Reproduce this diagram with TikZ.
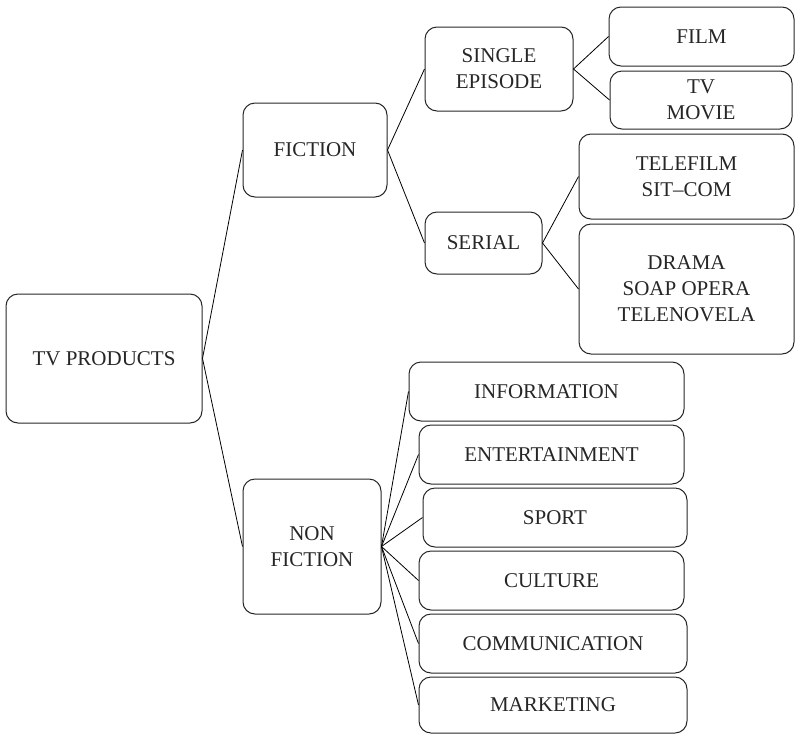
\documentclass[tikz,border=0pt]{standalone}
\usepackage{fontspec}
\setmainfont{Liberation Serif}
\begin{document}
\begin{tikzpicture}[x=1pt,y=-1pt,
  box/.style={draw=black!85, line width=1pt, rounded corners=12pt, align=center, inner sep=0pt,
    font=\fontsize{21}{26}\selectfont, text=black!85},
  link/.style={draw=black, line width=0.8pt}]
\useasboundingbox (0,0) rectangle (795,734);
\node[box, minimum width=196pt, minimum height=129pt] (tv) at (104,358.5) {TV PRODUCTS};
\node[box, minimum width=144pt, minimum height=94pt] (fiction) at (315,150) {FICTION};
\node[box, minimum width=148pt, minimum height=84pt] (single) at (499,69) {SINGLE\\EPISODE};
\node[box, minimum width=117pt, minimum height=62pt] (serial) at (483.5,243) {SERIAL};
\node[box, minimum width=185pt, minimum height=59pt] (film) at (701.5,36.5) {FILM};
\node[box, minimum width=182pt, minimum height=58pt] (tvmovie) at (701,100) {TV\\MOVIE};
\node[box, minimum width=215pt, minimum height=85pt] (telefilm) at (686.5,176.5) {TELEFILM\\SIT--COM};
\node[box, minimum width=215pt, minimum height=130pt] (drama) at (686.5,289) {DRAMA\\SOAP OPERA\\TELENOVELA};
\node[box, minimum width=138pt, minimum height=135pt] (nonfiction) at (312,546.5) {NON\\FICTION};
\node[box, minimum width=275pt, minimum height=59pt] (info) at (546.5,391.5) {INFORMATION};
\node[box, minimum width=265pt, minimum height=59pt] (ent) at (551.5,454.5) {ENTERTAINMENT};
\node[box, minimum width=264pt, minimum height=59pt] (sport) at (555,517.5) {SPORT};
\node[box, minimum width=265pt, minimum height=59pt] (culture) at (551.5,580.5) {CULTURE};
\node[box, minimum width=268pt, minimum height=59pt] (comm) at (553,643.5) {COMMUNICATION};
\node[box, minimum width=268pt, minimum height=56pt] (mkt) at (553,705) {MARKETING};
\draw[link] (fiction.west) -- (tv.east) -- (nonfiction.west);
\draw[link] (single.west) -- (fiction.east) -- (serial.west);
\draw[link] (film.west) -- (single.east) -- (tvmovie.west);
\draw[link] (telefilm.west) -- (serial.east) -- (drama.west);
\foreach \n in {info,ent,sport,culture,comm,mkt}
  \draw[link] (nonfiction.east) -- (\n.west);
\end{tikzpicture}
\end{document}
